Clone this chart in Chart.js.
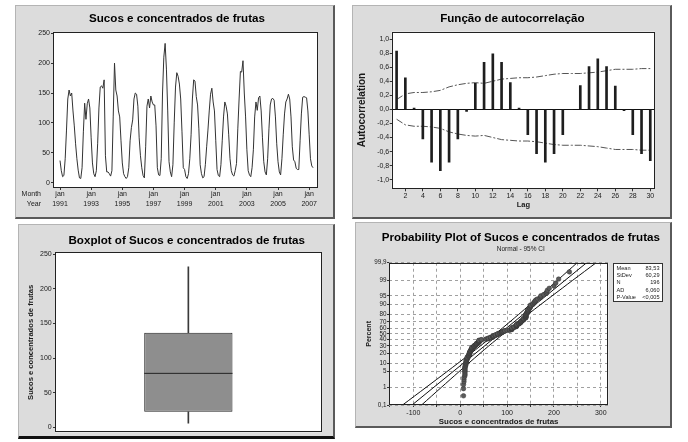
<!DOCTYPE html>
<html>
<head>
<meta charset="utf-8">
<script src="https://cdn.jsdelivr.net/npm/chart.js@4.4.0/dist/chart.umd.min.js"></script>
<style>
  body { margin: 0; background: #fff; width: 688px; height: 442px; position: relative; overflow: hidden; }
  .panel { position: absolute; background: #dcdcdc; box-sizing: border-box;
           border: 1px solid #b4b4b4; border-right: 2px solid #5a5a5a; border-bottom: 2px solid #5a5a5a; }
  canvas { position: absolute; }
</style>
</head>
<body>
<div class="panel" style="left:15px;top:5px;width:320px;height:214px"></div>
<div class="panel" style="left:352px;top:5px;width:320px;height:214px"></div>
<div class="panel" style="left:18px;top:224px;width:317px;height:215px;border-bottom:3px solid #111"></div>
<div class="panel" style="left:355px;top:222px;width:317px;height:206px"></div>

<canvas id="tsChart" width="319" height="213" style="left:15px;top:5px"></canvas>
<canvas id="acfChart" width="319" height="213" style="left:352px;top:5px"></canvas>
<canvas id="boxChart" width="316" height="214" style="left:18px;top:224px"></canvas>
<canvas id="probChart" width="317" height="206" style="left:355px;top:222px"></canvas>

<script>
// monthly values, jan 1991 .. apr 2007 (196 months)
const sales = [
  37, 20, 10, 12, 40, 88, 140, 155, 145, 150, 120, 95,
  65, 40, 21, 8, 7, 25, 85, 133, 106, 132, 140, 125,
  75, 33, 15, 10, 20, 65, 125, 160, 162, 158, 172, 45,
  18, 18, 15, 11, 20, 110, 200, 155, 145, 120, 110, 70,
  33, 15, 10, 7, 10, 25, 70, 92, 105, 140, 150, 148,
  128, 75, 45, 25, 12, 8, 60, 128, 140, 125, 145, 135,
  130, 130, 95, 25, 13, 12, 40, 150, 210, 233, 190, 120,
  35, 18, 10, 30, 100, 160, 184, 178, 165, 140, 85, 25,
  22, 10, 7, 15, 40, 80, 140, 172, 170, 144, 130, 90,
  30, 15, 8, 10, 30, 60, 88, 120, 148, 158, 135, 120,
  71, 22, 12, 10, 30, 70, 110, 135, 128, 115, 80, 40,
  20, 13, 11, 20, 32, 90, 140, 186, 185, 204, 150, 110,
  55, 20, 13, 10, 25, 55, 110, 135, 121, 142, 145, 120,
  75, 35, 18, 13, 40, 90, 130, 140, 141, 138, 110, 65,
  35, 18, 13, 40, 80, 115, 135, 140, 148, 140, 110, 60,
  38, 35, 24, 22, 22, 70, 115, 143, 144, 143, 142, 120,
  80, 40, 28, 25
];
const yearTicks = [0, 24, 48, 72, 96, 120, 144, 168, 192];
const yearLabels = ['1991', '1993', '1995', '1997', '1999', '2001', '2003', '2005', '2007'];
const salesTicks = [0, 50, 100, 150, 200, 250];

const lags = [1, 2, 3, 4, 5, 6, 7, 8, 9, 10, 11, 12, 13, 14, 15, 16, 17, 18, 19, 20, 21, 22, 23, 24, 25, 26, 27, 28, 29, 30];
const acf = [0.83, 0.45, 0.02, -0.42, -0.75, -0.87, -0.75, -0.42, -0.03, 0.37, 0.67, 0.79, 0.67, 0.38, 0.02,
             -0.36, -0.63, -0.75, -0.63, -0.36, 0.00, 0.34, 0.61, 0.72, 0.61, 0.33, -0.02, -0.36, -0.63, -0.73];
const acfLimit = [0.14, 0.22, 0.24, 0.24, 0.25, 0.27, 0.32, 0.35, 0.37, 0.38, 0.37, 0.40, 0.43, 0.44, 0.45,
                  0.45, 0.46, 0.48, 0.50, 0.51, 0.51, 0.51, 0.52, 0.53, 0.55, 0.57, 0.57, 0.57, 0.58, 0.58];
const lagTicks = [2, 4, 6, 8, 10, 12, 14, 16, 18, 20, 22, 24, 26, 28, 30];
const acfTicks = [-1, -0.8, -0.6, -0.4, -0.2, 0, 0.2, 0.4, 0.6, 0.8, 1];

// min, Q1, median, Q3, max
const boxFive = [6, 22.5, 78, 136.7, 232];

const pctTicks = [0.1, 1, 5, 10, 20, 30, 40, 50, 60, 70, 80, 90, 95, 99, 99.9];
const probXTicks = [-150, -100, -50, 0, 50, 100, 150, 200, 250, 300];
const ciPct = [0.1, 1, 5, 10, 20, 30, 50, 70, 80, 90, 95, 99, 99.9];
const ciLower = [-123, -73, -28.6, -5.2, 23, 42.9, 75.1, 106.1, 124.5, 149.4, 169.8, 207.5, 249.6];
const ciUpper = [-82.5, -40.4, -2.7, 17.6, 42.6, 60.9, 92, 124.1, 144.1, 172.2, 195.7, 240, 290.1];
const fitPct = [0.1, 99.9];
const fitX = [-102.8, 269.8];
const statNames = ['Mean', 'StDev', 'N', 'AD', 'P-Value'];
const statValues = ['83,53', '60,29', '196', '6,060', '<0,005'];

const mainTitles = [
  'Sucos e concentrados de frutas',
  'Função de autocorrelação',
  'Boxplot of Sucos e concentrados de frutas',
  'Probability Plot of Sucos e concentrados de frutas'
];
const seriesName = 'Sucos e concentrados de frutas';

// inverse normal cdf (Acklam), used for the probability axis
function normInv(p) {
  const a = [-39.69683028665376, 220.9460984245205, -275.9285104469687, 138.3577518672690, -30.66479806614716, 2.506628277459239];
  const b = [-54.47609879822406, 161.5858368580409, -155.6989798598866, 66.80131188771972, -13.28068155288572];
  const c = [-0.007784894002430293, -0.3223964580411365, -2.400758277161838, -2.549732539343734, 4.374664141464968, 2.938163982698783];
  const d = [0.007784695709041462, 0.3224671290700398, 2.445134137142996, 3.754408661907416];
  if (p < 0.02425) {
    const q = Math.sqrt(-2 * Math.log(p));
    return (((((c[0] * q + c[1]) * q + c[2]) * q + c[3]) * q + c[4]) * q + c[5]) / ((((d[0] * q + d[1]) * q + d[2]) * q + d[3]) * q + 1);
  }
  if (p > 1 - 0.02425) return -normInv(1 - p);
  const q = p - 0.5, r = q * q;
  return (((((a[0] * r + a[1]) * r + a[2]) * r + a[3]) * r + a[4]) * r + a[5]) * q / (((((b[0] * r + b[1]) * r + b[2]) * r + b[3]) * r + b[4]) * r + 1);
}

Chart.defaults.font.family = "'Liberation Sans', Arial, sans-serif";
Chart.defaults.color = '#1a1a1a';
Chart.defaults.animation = false;
Chart.defaults.responsive = false;
Chart.defaults.plugins.legend.display = false;
Chart.defaults.plugins.tooltip.enabled = false;

// white plot background and black frame, like minitab
Chart.register({
  id: 'plotFrame',
  beforeDraw(chart) {
    const { ctx, chartArea: a } = chart;
    ctx.save();
    ctx.fillStyle = '#fff';
    ctx.fillRect(a.left, a.top, a.width, a.height);
    ctx.restore();
  },
  afterDraw(chart) {
    const { ctx, chartArea: a } = chart;
    ctx.save();
    ctx.strokeStyle = '#222';
    ctx.lineWidth = 1;
    ctx.strokeRect(Math.round(a.left) + 0.5, Math.round(a.top) + 0.5, Math.round(a.width) - 1, Math.round(a.height) - 1);
    ctx.restore();
  }
});

const titleFont = { size: 11.6, weight: 'bold' };
const tickFont = { size: 7 };
const setTicks = (vals) => (scale) => { scale.ticks = vals.map(v => ({ value: v })); };
// empty axis used only to reserve room on the right
const spacer = (w) => ({
  type: 'linear', position: 'right', display: true,
  ticks: { display: false }, grid: { display: false }, border: { display: false },
  afterFit: (s) => { s.width = w; }
});

// --- time series ---
const monthYear = {
  id: 'monthYear',
  afterDraw(chart) {
    const { ctx, chartArea: a } = chart;
    ctx.save();
    ctx.font = "7px 'Liberation Sans', Arial, sans-serif";
    ctx.fillStyle = '#1a1a1a';
    ctx.textAlign = 'right';
    ctx.textBaseline = 'middle';
    ctx.fillText('Month', a.left - 12, a.bottom + 6);
    ctx.fillText('Year', a.left - 12, a.bottom + 16);
    ctx.restore();
  }
};

new Chart(document.getElementById('tsChart'), {
  type: 'line',
  data: {
    datasets: [{
      data: sales.map((v, i) => ({ x: i, y: v })),
      borderColor: '#333',
      borderWidth: 1,
      pointRadius: 0,
      tension: 0
    }]
  },
  options: {
    layout: { padding: { left: 21, right: 16, top: 0, bottom: 0 } },
    plugins: {
      title: { display: true, text: mainTitles[0], font: titleFont, color: '#000', padding: { top: 7, bottom: 6 } }
    },
    scales: {
      x: {
        type: 'linear', min: -5.4, max: 198.8,
        afterBuildTicks: setTicks(yearTicks),
        ticks: { font: { size: 7, lineHeight: 1.43 }, maxRotation: 0, autoSkip: false, padding: -1,
                 callback: (v) => ['jan', yearLabels[yearTicks.indexOf(v)]] },
        grid: { drawOnChartArea: false, tickLength: 2, tickColor: '#333' },
        border: { display: false },
        afterFit: (s) => { s.height = 30; }
      },
      y: {
        min: -8.9, max: 252.2,
        afterBuildTicks: setTicks(salesTicks),
        ticks: { font: tickFont, padding: 1, autoSkip: false },
        grid: { drawOnChartArea: false, tickLength: 2, tickColor: '#333' },
        border: { display: false },
        afterFit: (s) => { s.width = 17; }
      }
    }
  },
  plugins: [monthYear]
});

// --- autocorrelation ---
new Chart(document.getElementById('acfChart'), {
  type: 'bar',
  data: {
    datasets: [
      { type: 'bar', data: lags.map((l, i) => ({ x: l, y: acf[i] })), backgroundColor: '#1e1e1e', barThickness: 2 },
      { type: 'line', data: lags.map((l, i) => ({ x: l, y: acfLimit[i] })), borderColor: '#555', borderWidth: 1,
        borderDash: [7, 2, 2, 2], pointRadius: 0, tension: 0 },
      { type: 'line', data: lags.map((l, i) => ({ x: l, y: -acfLimit[i] })), borderColor: '#555', borderWidth: 1,
        borderDash: [7, 2, 2, 2], pointRadius: 0, tension: 0 }
    ]
  },
  options: {
    layout: { padding: { left: 17.6, right: 16, top: 0, bottom: 0 } },
    plugins: {
      title: { display: true, text: mainTitles[1], font: titleFont, color: '#000', padding: { top: 7.3, bottom: 5.5 } }
    },
    scales: {
      x: {
        type: 'linear', min: 0.44, max: 30.54, offset: false,
        afterBuildTicks: setTicks(lagTicks),
        ticks: { font: tickFont, maxRotation: 0, autoSkip: false, padding: 0.5 },
        grid: { drawOnChartArea: false, offset: false, tickLength: 3, tickColor: '#333' },
        border: { display: false },
        title: { display: true, text: 'Lag', font: { size: 7.5, weight: 'bold' }, padding: { top: 0, bottom: 8.5 } },
        afterFit: (s) => { s.height = 29.7; }
      },
      y: {
        min: -1.122, max: 1.104,
        afterBuildTicks: setTicks(acfTicks),
        ticks: { font: tickFont, padding: 0.5, autoSkip: false, callback: (v) => v.toFixed(1).replace('.', ',') },
        grid: { color: (c) => (c.tick && c.tick.value === 0 ? '#111' : 'rgba(0,0,0,0)'), tickColor: '#333', tickLength: 2 },
        border: { display: false },
        title: { display: true, text: 'Autocorrelation', font: { size: 10, weight: 'bold' }, padding: { top: -13.6, bottom: 0 } },
        afterFit: (s) => { s.width = 22.1; }
      }
    }
  }
});

// --- boxplot ---
const medianLine = {
  id: 'medianLine',
  afterDatasetsDraw(chart) {
    const box = chart.getDatasetMeta(2).data[0];
    const y = chart.scales.y.getPixelForValue(boxFive[2]);
    const ctx = chart.ctx;
    ctx.save();
    ctx.strokeStyle = '#222';
    ctx.lineWidth = 1;
    ctx.beginPath();
    ctx.moveTo(box.x - box.width / 2, y);
    ctx.lineTo(box.x + box.width / 2, y);
    ctx.stroke();
    ctx.restore();
  }
};

new Chart(document.getElementById('boxChart'), {
  type: 'bar',
  data: {
    labels: [''],
    datasets: [
      { data: [[boxFive[3], boxFive[4]]], backgroundColor: '#3a3a3a', barThickness: 1, grouped: false },
      { data: [[boxFive[0], boxFive[1]]], backgroundColor: '#3a3a3a', barThickness: 1, grouped: false },
      { data: [[boxFive[1], boxFive[3]]], backgroundColor: '#8e8e8e', borderColor: '#222', borderWidth: 1,
        borderSkipped: false, barPercentage: 0.331, categoryPercentage: 1, grouped: false }
    ]
  },
  options: {
    layout: { padding: { left: 21.4, right: 0, top: 0, bottom: 5.7 } },
    plugins: {
      title: { display: true, text: mainTitles[2], font: titleFont, color: '#000', padding: { top: 9.75, bottom: 4.65 } }
    },
    scales: {
      x: { display: false },
      y: {
        min: -7.2, max: 252.9,
        afterBuildTicks: setTicks(salesTicks),
        ticks: { font: tickFont, padding: 1.3, autoSkip: false },
        grid: { drawOnChartArea: false, tickLength: 2, tickColor: '#333' },
        border: { display: false },
        title: { display: true, text: seriesName, font: { size: 7.6, weight: 'bold' }, padding: { top: -13, bottom: 0 } },
        afterFit: (s) => { s.width = 15.6; }
      },
      side: spacer(12.3)
    }
  },
  plugins: [medianLine]
});

// --- normal probability plot ---
const n = sales.length;
const sorted = sales.slice().sort((a, b) => a - b);
const probPoints = sorted.map((v, i) => ({ x: v, y: normInv((i + 1 - 0.3) / (n + 0.4)) }));
const zMin = normInv(0.001), zMax = normInv(0.999);

const statsBox = {
  id: 'statsBox',
  afterDraw(chart) {
    const { ctx, chartArea: a } = chart;
    const x0 = Math.round(a.right) + 5.5, y0 = Math.round(a.top) + 0.5, w = 49, h = 38;
    ctx.save();
    ctx.fillStyle = '#fff';
    ctx.fillRect(x0, y0, w, h);
    ctx.strokeStyle = '#333';
    ctx.lineWidth = 1;
    ctx.strokeRect(x0, y0, w, h);
    ctx.font = "5.6px 'Liberation Sans', Arial, sans-serif";
    ctx.fillStyle = '#222';
    ctx.textBaseline = 'middle';
    statNames.forEach((name, i) => {
      const y = y0 + 5 + i * 7.2;
      ctx.textAlign = 'left';
      ctx.fillText(name, x0 + 3, y);
      ctx.textAlign = 'right';
      ctx.fillText(statValues[i], x0 + w - 3, y);
    });
    ctx.restore();
  }
};

new Chart(document.getElementById('probChart'), {
  type: 'scatter',
  data: {
    datasets: [
      { data: probPoints, pointRadius: 2.3, backgroundColor: '#5a5a5a', borderColor: '#333', borderWidth: 0.5 },
      { data: fitPct.map((p, i) => ({ x: fitX[i], y: normInv(p / 100) })), showLine: true, pointRadius: 0,
        borderColor: '#111', borderWidth: 1 },
      { data: ciPct.map((p, i) => ({ x: ciLower[i], y: normInv(p / 100) })), showLine: true, pointRadius: 0,
        borderColor: '#111', borderWidth: 1, tension: 0.3 },
      { data: ciPct.map((p, i) => ({ x: ciUpper[i], y: normInv(p / 100) })), showLine: true, pointRadius: 0,
        borderColor: '#111', borderWidth: 1, tension: 0.3 }
    ]
  },
  options: {
    layout: { padding: { left: 14.6, right: 0, top: 0, bottom: 0 } },
    plugins: {
      title: { display: true, text: mainTitles[3], font: titleFont, color: '#000', padding: { top: 8.35, bottom: 1.15 } },
      subtitle: { display: true, text: 'Normal - 95% CI', font: { size: 6.5 }, color: '#222', padding: { top: 0, bottom: 9.5 } }
    },
    scales: {
      x: {
        type: 'linear', min: -152, max: 316,
        afterBuildTicks: setTicks(probXTicks),
        ticks: { font: { size: 7 }, padding: 2, maxRotation: 0, autoSkip: false,
                 callback: (v) => (v % 100 === 0 ? String(v) : '') },
        grid: { color: '#a0a0a0', tickLength: 2, tickColor: '#333' },
        border: { display: false, dash: [3, 3] },
        title: { display: true, text: seriesName, font: { size: 7.9, weight: 'bold' }, padding: { top: 0, bottom: 1.3 } },
        afterFit: (s) => { s.height = 23; }
      },
      y: {
        min: zMin, max: zMax,
        afterBuildTicks: setTicks(pctTicks.map(p => normInv(p / 100))),
        ticks: { font: { size: 6.3 }, padding: 0.5, autoSkip: false,
                 callback: (v, i) => String(pctTicks[i]).replace('.', ',') },
        grid: { color: '#a0a0a0', tickLength: 2, tickColor: '#333' },
        border: { display: false, dash: [3, 3] },
        title: { display: true, text: 'Percent', font: { size: 7, weight: 'bold' }, padding: { top: -4.8, bottom: 0 } },
        afterFit: (s) => { s.width = 19.4; }
      },
      side: spacer(63.7)
    }
  },
  plugins: [statsBox]
});
</script>
</body>
</html>
